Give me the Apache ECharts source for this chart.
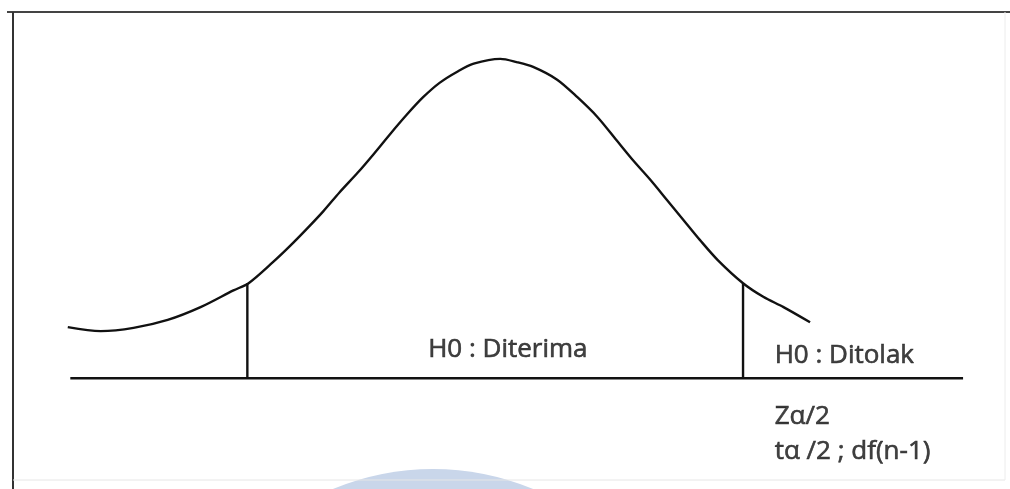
<!DOCTYPE html>
<html>
<head>
<meta charset="utf-8">
<title>Uji dua arah</title>
<script src="https://cdn.jsdelivr.net/npm/echarts@6/dist/echarts.min.js"></script>
<style>
	html, body { margin:0; padding:0; background:#fff; }
	#chart { width:1010px; height:489px; }
</style>
</head>
<body>
<div id="chart"></div>
<script>
// kurva (z, tinggi)
var curveZ = [-3.38,-3.12,-2.86,-2.59,-2.33,-2.07,-1.95,-1.76,-1.62,-1.49,-1.36,-1.23,-1.09,-0.96,-0.83,-0.70,-0.57,-0.44,-0.30,-0.17,0.04,0.17,0.30,0.49,0.65,0.81,0.96,1.09,1.23,1.36,1.49,1.62,1.76,1.96,2.12,2.28,2.49];
var curveY = [0.064,0.059,0.063,0.073,0.089,0.110,0.119,0.145,0.166,0.187,0.209,0.233,0.257,0.281,0.306,0.330,0.352,0.370,0.384,0.394,0.400,0.396,0.390,0.374,0.352,0.327,0.298,0.273,0.248,0.223,0.198,0.173,0.148,0.119,0.102,0.089,0.070];

var critZ = [-1.96, 1.96];
var critTop = 0.119;
var baseFrom = -3.36;
var baseTo = 3.70;

var labelTexts = ['H0 : Diterima', 'H0 : Ditolak', 'Z\u03b1/2', 't\u03b1 /2 ; df(n-1)'];
var labelZ = [-0.53, 2.21, 2.21, 2.21];
var labelY = [0.036, 0.028, -0.048, -0.092];

var myChart = echarts.init(document.getElementById('chart'));

var curveData = [];
for (var i=0;i<curveZ.length;i++) {
	curveData.push([curveZ[i], curveY[i]]);
}

var lineStyle = {color:'#111', width:2.4};
var series = [];

series.push({
	name:'kurva',
	type:'line',
	data:curveData,
	smooth:0.3,
	showSymbol:false,
	clip:false,
	lineStyle:lineStyle
});

series.push({
	name:'garis',
	type:'line',
	data:[[baseFrom,0],[baseTo,0]],
	showSymbol:false,
	clip:false,
	lineStyle:lineStyle
});

for (var i=0;i<critZ.length;i++) {
	series.push({
		name:'kritis'+i,
		type:'line',
		data:[[critZ[i],0],[critZ[i],critTop]],
		showSymbol:false,
		clip:false,
		lineStyle:lineStyle
	});
}

var labelData = [];
for (var i=0;i<labelTexts.length;i++) {
	labelData.push({value:[labelZ[i], labelY[i]], name:labelTexts[i]});
}
series.push({
	name:'teks',
	type:'scatter',
	data:labelData,
	symbolSize:0,
	clip:false,
	label:{
		show:true,
		position:'inside',
		align:'left',
		verticalAlign:'middle',
		formatter:'{b}',
		color:'#111',
		textBorderColor:'#111',
		textBorderWidth:0.6,
		fontFamily:'Open Sans',
		fontSize:26
	}
});

var option = {
	animation:false,
	backgroundColor:'#fff',
	grid:{left:21, right:9, top:19, bottom:15},
	xAxis:{type:'value', min:-3.75, max:4.0, show:false},
	yAxis:{type:'value', min:-0.12, max:0.45, show:false},
	graphic:[
		{type:'circle', shape:{cx:433, cy:729, r:260}, style:{fill:'#c9d6ea'}, z:-10},
		{type:'polyline', shape:{points:[[7,12],[1010,12]]}, style:{stroke:'#444', lineWidth:2}},
		{type:'polyline', shape:{points:[[13,12],[13,489]]}, style:{stroke:'#333', lineWidth:2}},
		{type:'polyline', shape:{points:[[13,480],[1005,480]]}, style:{stroke:'#e6e6e6', lineWidth:1}},
		{type:'polyline', shape:{points:[[1005,12],[1005,480]]}, style:{stroke:'#ececec', lineWidth:1}}
	],
	series:series
};

myChart.setOption(option);
</script>
</body>
</html>
